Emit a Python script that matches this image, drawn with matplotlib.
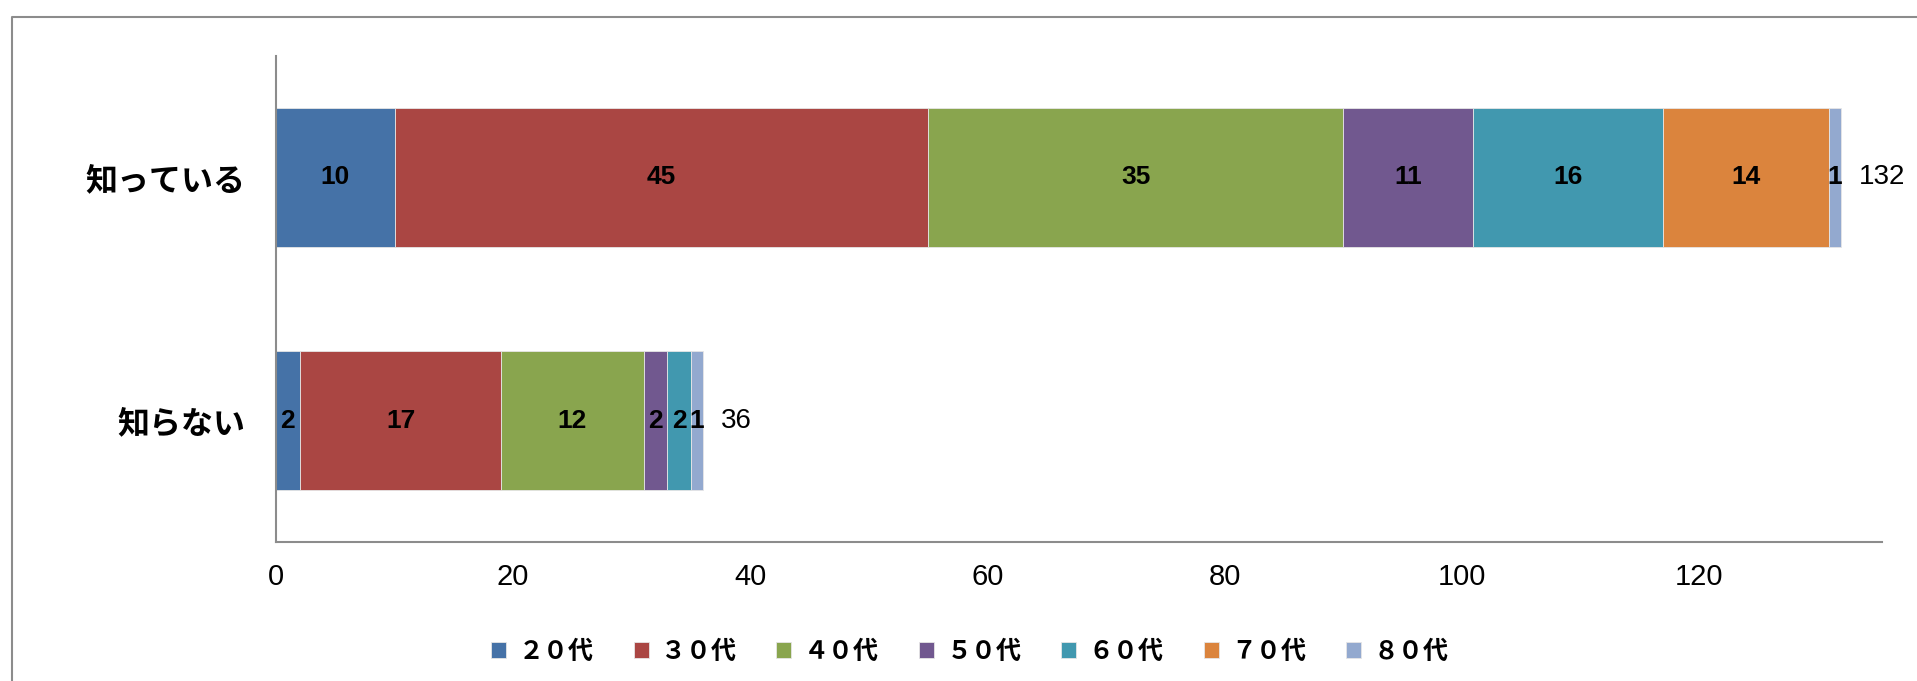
import matplotlib
matplotlib.use("Agg")
import matplotlib.pyplot as plt
from matplotlib.lines import Line2D
import numpy as np

plt.rcParams['font.family'] = ['Liberation Sans', 'Noto Sans CJK JP', 'DejaVu Sans']

# data
categories = ['知っている', '知らない']
age_groups = ['２０代', '３０代', '４０代', '５０代', '６０代', '７０代', '８０代']
v20 = [10, 2]
v30 = [45, 17]
v40 = [35, 12]
v50 = [11, 2]
v60 = [16, 2]
v70 = [14, 0]
v80 = [1, 1]
series = [v20, v30, v40, v50, v60, v70, v80]
colors = ['#4572A7', '#AA4643', '#89A54E', '#71588F', '#4198AF', '#DB843D', '#93A9CF']
x_ticks = [0, 20, 40, 60, 80, 100, 120]

fig = plt.figure(figsize=(19.17, 6.81), dpi=100)
ax = fig.add_axes((0.144, 0.204, 0.838, 0.714))

# outer chart frame (only left/top edges visible in the crop)
x0 = 12 / 1917
y1 = 1 - 17 / 681
fig.lines.append(Line2D([x0, x0, 1.05], [-0.05, y1, y1], transform=fig.transFigure,
                        color='#8c8c8c', lw=1.5))

y = np.array([1, 0])
left = np.zeros(len(categories))
for name, vals, col in zip(age_groups, series, colors):
    vals = np.array(vals, dtype=float)
    ax.barh(y, vals, left=left, height=0.57, color=col, label=name,
            edgecolor='#e6e6e6', linewidth=0.6)
    for yi, l, v in zip(y, left, vals):
        if v > 0:
            ax.text(l + v / 2, yi, f'{int(v)}', ha='center', va='center',
                    fontsize=19, fontweight='bold', color='black')
    left += vals

# totals
for yi, tot in zip(y, left):
    ax.annotate(f'{int(tot)}', (tot, yi), xytext=(13, 0), textcoords='offset points',
                ha='left', va='center', fontsize=20, color='black', annotation_clip=False)

ax.set_xlim(0, 135.5)
ax.set_ylim(-0.5, 1.5)
ax.set_xticks(x_ticks)
ax.set_xticklabels([str(t) for t in x_ticks], fontsize=21)
ax.set_yticks(y)
ax.set_yticklabels(categories, family=['Noto Sans CJK JP'], fontsize=23, fontweight='bold')
ax.tick_params(axis='both', length=0)
ax.tick_params(axis='y', pad=22)
ax.tick_params(axis='x', pad=15)
ax.spines[['top', 'right']].set_visible(False)
for s in ['left', 'bottom']:
    ax.spines[s].set_color('#8c8c8c')
    ax.spines[s].set_linewidth(1.5)

fig.legend(loc='center', bbox_to_anchor=(0.506, 0.043), ncol=7, frameon=False,
           prop={'family': ['Noto Sans CJK JP'], 'size': 18, 'weight': 'bold'},
           handlelength=0.6, handleheight=0.6, handletextpad=0.5, columnspacing=1.6)

plt.savefig("out.png", dpi=100)
